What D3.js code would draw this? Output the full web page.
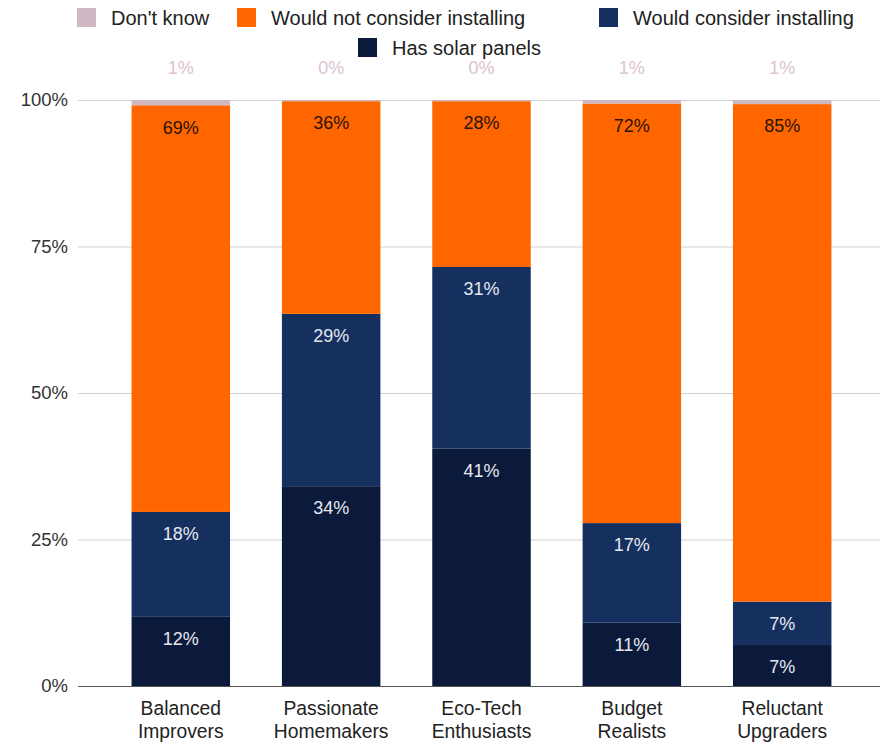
<!DOCTYPE html>
<html>
<head>
<meta charset="utf-8">
<script src="https://cdn.jsdelivr.net/npm/d3@7"></script>
<style>
  body { margin: 0; background: #fff; }
  svg { font-family: "Liberation Sans", Arial, sans-serif; }
</style>
</head>
<body>
<div id="chart"></div>
<script>
// data (percent, labels are rounded)
var categories = [["Balanced", "Improvers"], ["Passionate", "Homemakers"], ["Eco-Tech", "Enthusiasts"], ["Budget", "Realists"], ["Reluctant", "Upgraders"]];
var hasSolar = [11.8, 34.1, 40.5, 10.8, 7.0];
var wouldConsider = [17.9, 29.4, 31.0, 17.0, 7.4];
var wouldNot = [69.4, 36.3, 28.3, 71.6, 84.9];
var dontKnow = [0.9, 0.2, 0.2, 0.6, 0.7];
var yTicks = [0, 25, 50, 75, 100];

var seriesNames = ["Has solar panels", "Would consider installing", "Would not consider installing", "Don't know"];
var seriesValues = [hasSolar, wouldConsider, wouldNot, dontKnow];
var seriesColors = ["#0b1a3b", "#15305f", "#ff6600", "#cfb8c4"];
var labelColors = ["#e6e8f0", "#e6e8f0", "#2a1408", "#dcc3cf"];

var width = 884, height = 745;
var margin = {top: 100, right: 4, bottom: 59, left: 78};
var innerWidth = width - margin.left - margin.right;
var innerHeight = height - margin.top - margin.bottom;

var svg = d3.select("#chart").append("svg")
    .attr("width", width)
    .attr("height", height);

var chartGroup = svg.append("g")
    .attr("transform", "translate(" + margin.left + "," + margin.top + ")");

var xScale = d3.scaleBand()
    .domain(d3.range(categories.length))
    .range([28, 779])
    .paddingInner(0.345)
    .paddingOuter(0.17);

var yScale = d3.scaleLinear()
    .domain([0, 100])
    .range([innerHeight, 0]);

// gridlines
chartGroup.append("g").selectAll("line").data(yTicks)
    .enter()
    .append("line")
    .attr("x1", 0)
    .attr("x2", innerWidth)
    .attr("y1", function(d) { return yScale(d) + 0.5; })
    .attr("y2", function(d) { return yScale(d) + 0.5; })
    .attr("stroke", function(d) { return d === 0 ? "#555" : "#d0d0d0"; })
    .attr("stroke-width", function(d) { return d === 0 ? 1.2 : 1; });

// y axis labels
var yAxis = d3.axisLeft(yScale)
    .tickValues(yTicks)
    .tickFormat(function(d) { return d + "%"; })
    .tickSize(0)
    .tickPadding(10);
var yAxisGroup = chartGroup.append("g").call(yAxis);
yAxisGroup.select(".domain").remove();
yAxisGroup.selectAll("text")
    .attr("font-size", 18.5)
    .attr("font-family", "Liberation Sans, Arial, sans-serif")
    .attr("fill", "#333");

// stacked bars
var rows = categories.map(function(c, i) {
    var r = {index: i};
    seriesValues.forEach(function(vals, s) { r["s" + s] = vals[i]; });
    return r;
});
var stack = d3.stack().keys(seriesValues.map(function(v, s) { return "s" + s; }));
var stacked = stack(rows);

var barGroup = chartGroup.append("g");
stacked.forEach(function(layer, s) {
    barGroup.append("g").selectAll("rect").data(layer)
        .enter()
        .append("rect")
        .attr("x", function(d) { return xScale(d.data.index); })
        .attr("width", xScale.bandwidth())
        .attr("y", function(d) { return yScale(d[1]); })
        .attr("height", function(d) { return Math.max(0, yScale(d[0]) - yScale(d[1])); })
        .attr("fill", seriesColors[s]);
});

// value labels
stacked.forEach(function(layer, s) {
    var g = chartGroup.append("g");
    g.selectAll("text").data(layer)
        .enter()
        .append("text")
        .text(function(d) { return Math.round(seriesValues[s][d.data.index]) + "%"; })
        .attr("x", function(d) { return xScale(d.data.index) + xScale.bandwidth() / 2; })
        .attr("y", function(d) {
            if (s === 3) return yScale(100) - 32;
            return yScale(d[1]) + 22;
        })
        .attr("dy", "0.35em")
        .attr("text-anchor", "middle")
        .attr("font-size", 18)
        .attr("fill", labelColors[s]);
});

// category labels
var catGroup = chartGroup.append("g");
categories.forEach(function(c, i) {
    var cx = xScale(i) + xScale.bandwidth() / 2;
    c.forEach(function(line, k) {
        catGroup.append("text")
            .attr("x", cx)
            .attr("y", innerHeight + 22 + k * 23)
            .attr("dy", "0.35em")
            .attr("text-anchor", "middle")
            .attr("font-size", 19.3)
            .attr("fill", "#222")
            .text(line);
    });
});

// legend
var legendItems = [
    {name: seriesNames[3], color: seriesColors[3], x: 77, y: 8},
    {name: seriesNames[2], color: seriesColors[2], x: 237, y: 8},
    {name: seriesNames[1], color: seriesColors[1], x: 599, y: 8},
    {name: seriesNames[0], color: seriesColors[0], x: 358, y: 38}
];
var legend = svg.append("g");
var items = legend.selectAll("g").data(legendItems)
    .enter()
    .append("g")
    .attr("transform", function(d) { return "translate(" + d.x + "," + d.y + ")"; });
items.append("rect")
    .attr("width", 19)
    .attr("height", 19)
    .attr("fill", function(d) { return d.color; });
items.append("text")
    .attr("x", 34)
    .attr("y", 10)
    .attr("dy", "0.35em")
    .attr("font-size", 20)
    .attr("fill", "#222")
    .text(function(d) { return d.name; });
</script>
</body>
</html>
